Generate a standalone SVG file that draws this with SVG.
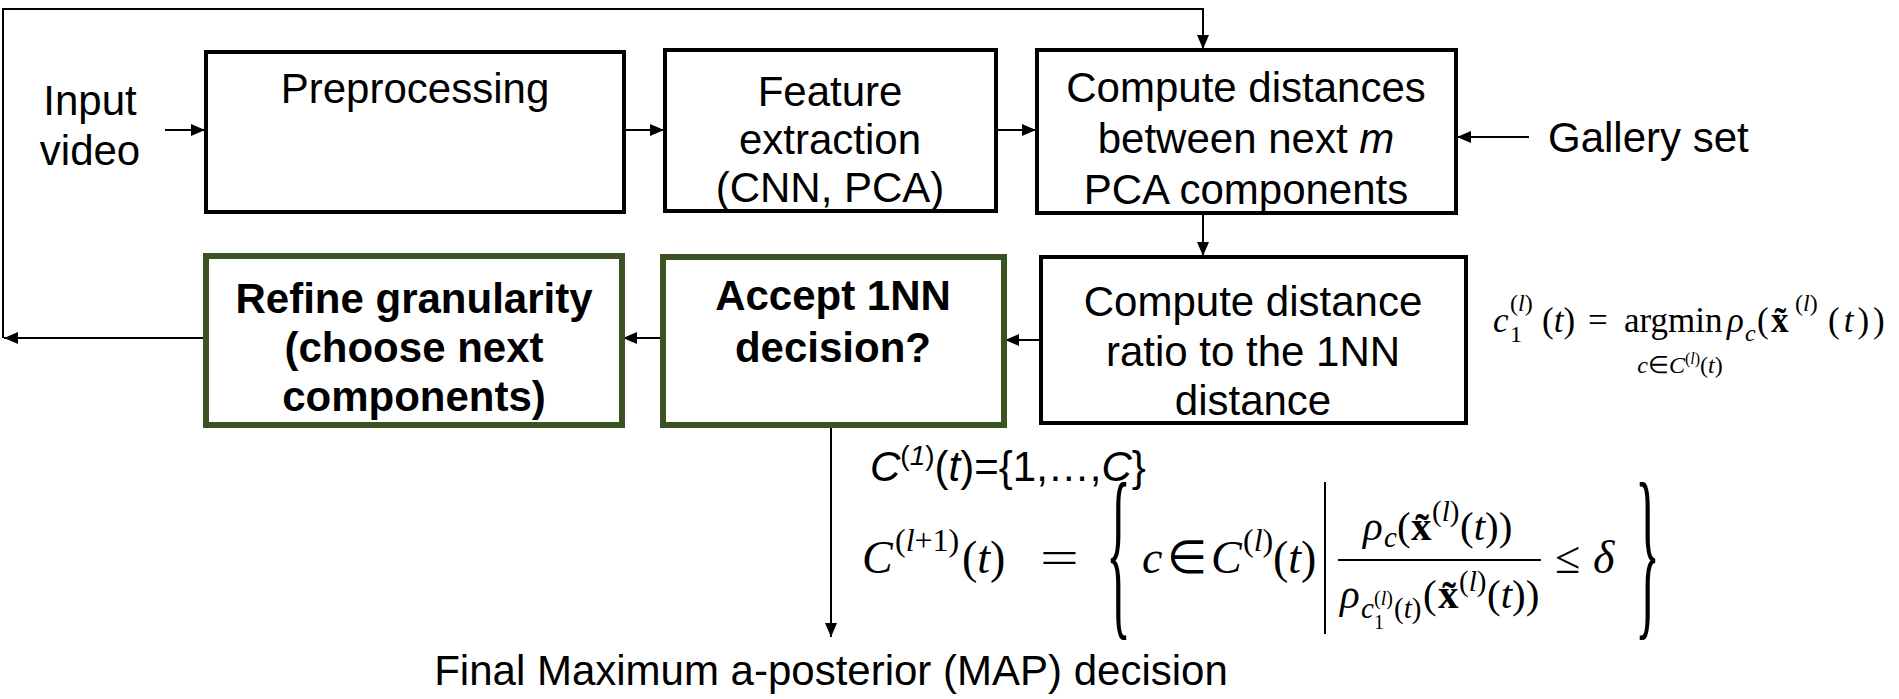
<svg xmlns="http://www.w3.org/2000/svg" width="1899" height="699" viewBox="0 0 1899 699">
<defs>
<marker id="ah" markerWidth="14" markerHeight="12" refX="14" refY="6" orient="auto" markerUnits="userSpaceOnUse"><path d="M0,0 L14,6 L0,12 z" fill="#000"/></marker>
</defs>
<style>
.box{fill:#fff;stroke:#000;stroke-width:4}
.gbox{fill:#fff;stroke:#3b5323;stroke-width:6}
.t{font-family:"Liberation Sans",Arial,sans-serif;font-size:42px;fill:#000;text-anchor:middle}
.s{font-family:"Liberation Sans",Arial,sans-serif;font-size:42px;fill:#000}
.b{font-weight:bold}
.c{fill:none;stroke:#000;stroke-width:2}
.m{font-family:"Liberation Serif","Times New Roman",serif;fill:#000}
.i{font-style:italic}
.bf{font-weight:bold}
</style>
<rect width="1899" height="699" fill="#fff"/>
<g id="connectors">
<line class="c" x1="206" y1="338" x2="4" y2="338" marker-end="url(#ah)"/>
<polyline class="c" points="3,338 3,9 1203,9 1203,49" marker-end="url(#ah)"/>
<line class="c" x1="165" y1="130" x2="205" y2="130" marker-end="url(#ah)"/>
<line class="c" x1="624" y1="130" x2="664" y2="130" marker-end="url(#ah)"/>
<line class="c" x1="996" y1="130" x2="1036" y2="130" marker-end="url(#ah)"/>
<line class="c" x1="1529" y1="137" x2="1457" y2="137" marker-end="url(#ah)"/>
<line class="c" x1="1203" y1="213" x2="1203" y2="256" marker-end="url(#ah)"/>
<line class="c" x1="1041" y1="340" x2="1005" y2="340" marker-end="url(#ah)"/>
<line class="c" x1="666" y1="338" x2="623" y2="338" marker-end="url(#ah)"/>
<circle cx="666" cy="338" r="6" fill="#000"/>
<line class="c" x1="831" y1="425" x2="831" y2="637" marker-end="url(#ah)"/>
</g>
<g id="input-video">
<text class="t" x="90" y="115">Input</text>
<text class="t" x="90" y="165">video</text>
</g>
<g id="preprocessing">
<rect class="box" x="206" y="52" width="418" height="160"/>
<text class="t" x="415" y="103">Preprocessing</text>
</g>
<g id="feature-extraction">
<rect class="box" x="665" y="50" width="331" height="161"/>
<text class="t" x="830" y="106">Feature</text>
<text class="t" x="830" y="154">extraction</text>
<text class="t" x="830" y="202">(CNN, PCA)</text>
</g>
<g id="compute-distances">
<rect class="box" x="1037" y="50" width="419" height="163"/>
<text class="t" x="1246" y="102">Compute distances</text>
<text class="t" x="1246" y="153">between next <tspan class="i">m</tspan></text>
<text class="t" x="1246" y="204">PCA components</text>
</g>
<g id="gallery-set">
<text class="s" x="1548" y="152">Gallery set</text>
</g>
<g id="compute-ratio">
<rect class="box" x="1041" y="257" width="425" height="166"/>
<text class="t" x="1253" y="316">Compute distance</text>
<text class="t" x="1253" y="366">ratio to the 1NN</text>
<text class="t" x="1253" y="415">distance</text>
</g>
<g id="accept-1nn">
<rect class="gbox" x="663" y="257" width="341" height="168"/>
<text class="t b" x="833" y="310">Accept 1NN</text>
<text class="t b" x="833" y="362">decision?</text>
</g>
<g id="refine-granularity">
<rect class="gbox" x="206" y="256" width="416" height="169"/>
<text class="t b" x="414" y="313">Refine granularity</text>
<text class="t b" x="414" y="362">(choose next</text>
<text class="t b" x="414" y="411">components)</text>
</g>
<g id="final-map">
<text class="t" x="831" y="685" font-size="45">Final Maximum a-posterior (MAP) decision</text>
</g>
<g id="formula-c1" class="m" font-size="35">
<text x="1493" y="332" class="i">c</text>
<text x="1510" y="342" font-size="24">1</text>
<text x="1510" y="311" font-size="24">(<tspan class="i">l</tspan>)</text>
<text x="1542" y="332">(<tspan class="i">t</tspan>)</text>
<text x="1588" y="332">=</text>
<text x="1624" y="332">argmin</text>
<text x="1680" y="373" font-size="24" text-anchor="middle"><tspan class="i">c</tspan>∈<tspan class="i">C</tspan><tspan font-size="16" dy="-9">(<tspan class="i">l</tspan>)</tspan><tspan dy="9">(<tspan class="i">t</tspan>)</tspan></text>
<text x="1727" y="332" class="i">ρ</text>
<text x="1745" y="341" font-size="24" class="i">c</text>
<text x="1757" y="332">(</text>
<text x="1771" y="332" class="bf">x̃</text>
<text x="1795" y="311" font-size="24">(<tspan class="i">l</tspan>)</text>
<text x="1828" y="332" letter-spacing="4">(<tspan class="i">t</tspan>))</text>
</g>
<g id="formula-init">
<text class="s" x="870" y="481"><tspan class="i">C</tspan><tspan font-size="28" dy="-16">(<tspan class="i">1</tspan>)</tspan><tspan dy="16">(<tspan class="i">t</tspan>)={1,…,</tspan><tspan class="i">C</tspan>}</text>
</g>
<g id="formula-set" class="m" font-size="46">
<text x="862" y="573" class="i">C</text>
<text x="895" y="551" font-size="32">(<tspan class="i">l</tspan>+1)</text>
<text x="962" y="573">(<tspan class="i">t</tspan>)</text>
<text transform="translate(1040,573) scale(1.5,1)" x="0" y="0">=</text>
<text transform="translate(1106,614) scale(1.3,4.75)" x="0" y="0" font-size="40">{</text>
<text x="1142" y="573" class="i">c</text>
<text x="1167" y="573">∈</text>
<text x="1211" y="573" class="i">C</text>
<text x="1243" y="551" font-size="32">(<tspan class="i">l</tspan>)</text>
<text x="1273" y="573">(<tspan class="i">t</tspan>)</text>
<line x1="1325" y1="482" x2="1325" y2="634" stroke="#000" stroke-width="2"/>
<g font-size="41">
<text x="1363" y="540" class="i">ρ</text>
<text x="1384" y="547" font-size="29" class="i">c</text>
<text x="1397" y="540">(</text>
<text x="1411" y="540" class="bf">x̃</text>
<text x="1432" y="521" font-size="29">(<tspan class="i">l</tspan>)</text>
<text x="1460" y="540">(<tspan class="i">t</tspan>))</text>
<line x1="1338" y1="560" x2="1541" y2="560" stroke="#000" stroke-width="2"/>
<text x="1340" y="608" class="i">ρ</text>
<text x="1361" y="618" font-size="29" class="i">c</text>
<text x="1374" y="629" font-size="20">1</text>
<text x="1374" y="605" font-size="20">(<tspan class="i">l</tspan>)</text>
<text x="1394" y="618" font-size="29">(<tspan class="i">t</tspan>)</text>
<text x="1423" y="608">(</text>
<text x="1438" y="608" class="bf">x̃</text>
<text x="1459" y="591" font-size="29">(<tspan class="i">l</tspan>)</text>
<text x="1487" y="608">(<tspan class="i">t</tspan>))</text>
</g>
<text x="1555" y="573">≤</text>
<text x="1593" y="573" class="i">δ</text>
<text transform="translate(1635,614) scale(1.3,4.75)" x="0" y="0" font-size="40">}</text>
</g>
</svg>
